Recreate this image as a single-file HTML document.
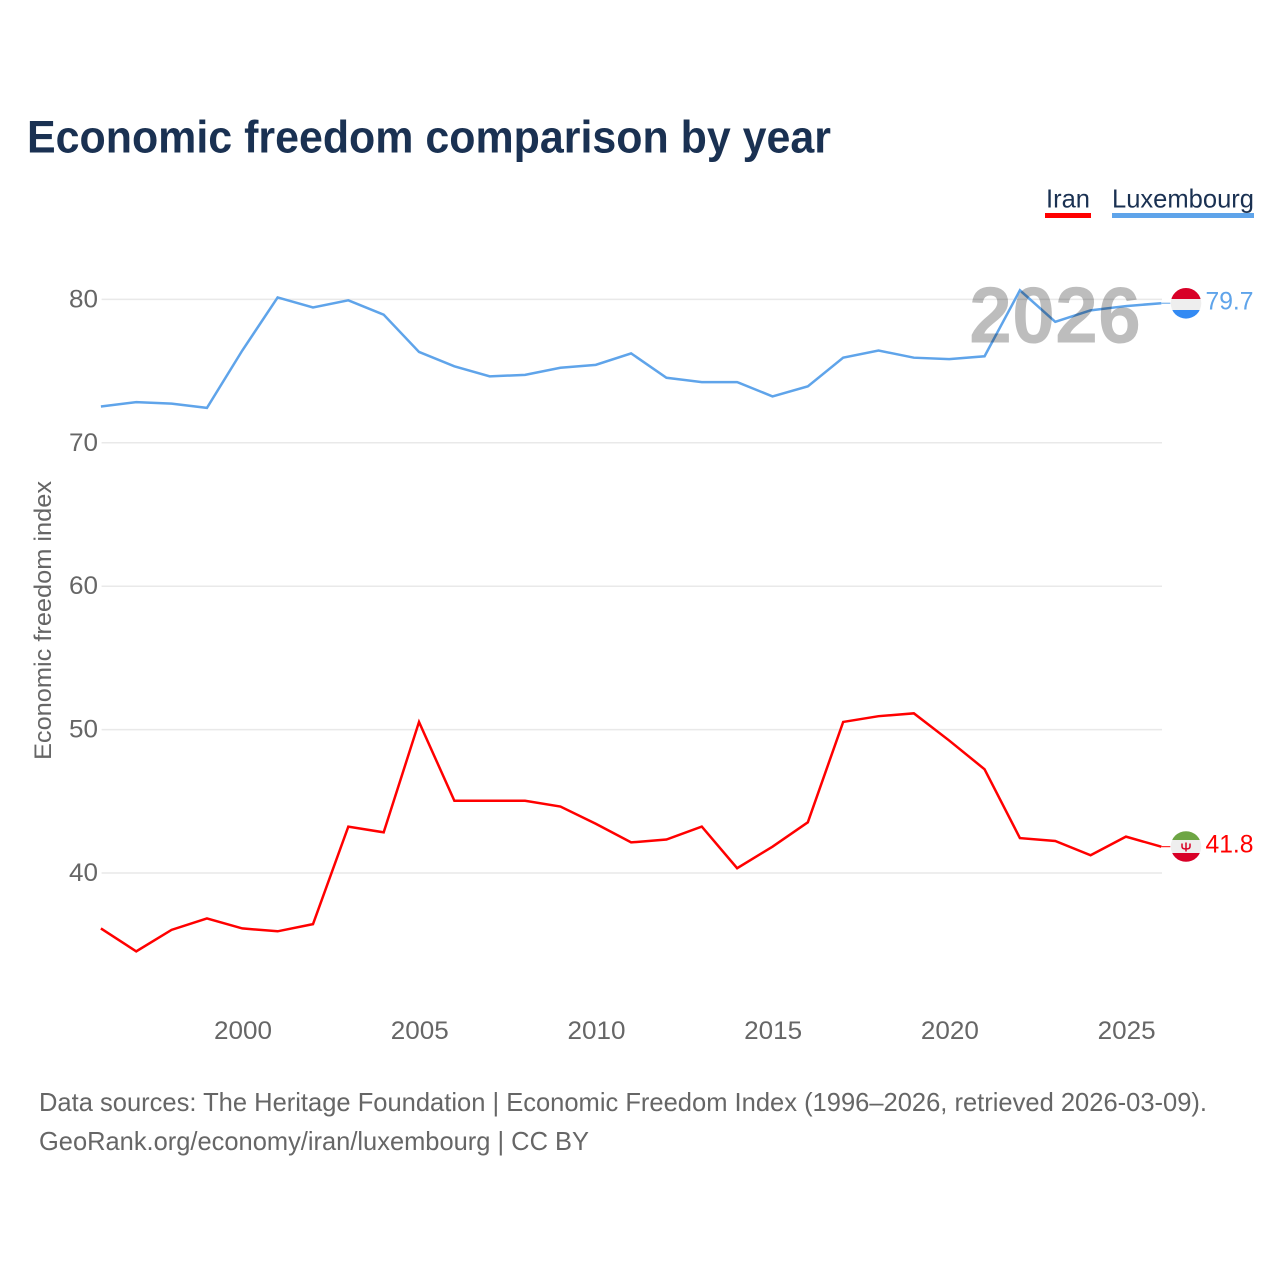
<!DOCTYPE html>
<html lang="en">
<head>
<meta charset="utf-8">
<title>Economic freedom comparison by year</title>
<style>
html,body{margin:0;padding:0;background:#fff;}
svg{display:block;font-family:"Liberation Sans",sans-serif;}
</style>
</head>
<body>
<svg id="chart" xmlns="http://www.w3.org/2000/svg" width="1280" height="1280" viewBox="0 0 1280 1280">
  <rect width="1280" height="1280" fill="#ffffff"/>
  <text x="27" y="152.5" font-size="45" font-weight="700" fill="#1a3152" textLength="804" lengthAdjust="spacingAndGlyphs">Economic freedom comparison by year</text>

  <g>
    <text x="1046" y="207.5" font-size="26" fill="#1a3152" textLength="44" lengthAdjust="spacingAndGlyphs">Iran</text>
    <rect x="1045" y="213" width="46" height="5" fill="#ff0000"/>
  </g>
  <g>
    <text x="1112" y="207.5" font-size="26" fill="#1a3152" textLength="142" lengthAdjust="spacingAndGlyphs">Luxembourg</text>
    <rect x="1112" y="213" width="142" height="5" fill="#5fa4ea"/>
  </g>

  <g id="grid"></g>
  <g id="yticks"></g>
  <g id="xticks"></g>

  <text transform="translate(51,760) rotate(-90)" font-size="24" fill="#666666" textLength="279" lengthAdjust="spacingAndGlyphs">Economic freedom index</text>

  <g id="series" transform="translate(-0.7,-0.5)"></g>

  <text x="969" y="342.5" font-size="80" font-weight="700" fill="#000000" fill-opacity="0.26" textLength="172" lengthAdjust="spacingAndGlyphs">2026</text>

  <defs>
    <clipPath id="flag-clip-lu"><circle cx="1186" cy="303.3" r="15.3"/></clipPath>
    <clipPath id="flag-clip-ir"><circle cx="1186" cy="846.5" r="15.3"/></clipPath>
  </defs>

  <g clip-path="url(#flag-clip-lu)">
    <rect x="1170" y="287" width="32" height="12" fill="#d80027"/>
    <rect x="1170" y="299" width="32" height="11" fill="#eeeeee"/>
    <rect x="1170" y="310" width="32" height="10" fill="#338af3"/>
  </g>
  <text id="label-lux" x="1205.5" y="309.5" font-size="25" fill="#5fa4ea" textLength="48" lengthAdjust="spacingAndGlyphs">79.7</text>

  <g clip-path="url(#flag-clip-ir)">
    <rect x="1170" y="830" width="32" height="10" fill="#6da544"/>
    <rect x="1170" y="840" width="32" height="13" fill="#eeeeee"/>
    <rect x="1170" y="853" width="32" height="10" fill="#d80027"/>
    <path d="M1182 843.5v3q0 2.5 4 2.5t4-2.5v-3M1186 842.5v9" fill="none" stroke="#d80027" stroke-width="1.5"/>
  </g>
  <text id="label-iran" x="1205.5" y="852.5" font-size="25" fill="#ff0000" textLength="48" lengthAdjust="spacingAndGlyphs">41.8</text>

  <text x="39" y="1111" font-size="26" fill="#666666" textLength="1168" lengthAdjust="spacingAndGlyphs">Data sources: The Heritage Foundation | Economic Freedom Index (1996–2026, retrieved 2026-03-09).</text>
  <text x="39" y="1150" font-size="26" fill="#666666" textLength="550" lengthAdjust="spacingAndGlyphs">GeoRank.org/economy/iran/luxembourg | CC BY</text>
</svg>
<script>
const years = [1996,1997,1998,1999,2000,2001,2002,2003,2004,2005,2006,2007,2008,2009,2010,2011,2012,2013,2014,2015,2016,2017,2018,2019,2020,2021,2022,2023,2024,2025,2026];
const iranValues = [36.1,34.5,36.0,36.8,36.1,35.9,36.4,43.2,42.8,50.5,45.0,45.0,45.0,44.6,43.4,42.1,42.3,43.2,40.3,41.8,43.5,50.5,50.9,51.1,49.2,47.2,42.4,42.2,41.2,42.5,41.8];
const luxembourgValues = [72.5,72.8,72.7,72.4,76.4,80.1,79.4,79.9,78.9,76.3,75.3,74.6,74.7,75.2,75.4,76.2,74.5,74.2,74.2,73.2,73.9,75.9,76.4,75.9,75.8,76.0,80.6,78.4,79.2,79.5,79.7];
const yTickValues = [40,50,60,70,80];
const xTickValues = [2000,2005,2010,2015,2020,2025];

const NS = 'http://www.w3.org/2000/svg';
const plotLeft = 101.6, plotRight = 1162;
function xScale(year) {
  return plotLeft + (year - years[0]) * (plotRight - plotLeft) / (years[years.length - 1] - years[0]);
}
function yScale(value) {
  return 873 - (value - 40) * 14.34;
}

const grid = document.getElementById('grid');
const yticks = document.getElementById('yticks');
const xticks = document.getElementById('xticks');
const series = document.getElementById('series');

yTickValues.forEach(function (v) {
  const line = document.createElementNS(NS, 'line');
  
  
  line.setAttribute('x1', plotLeft);
  line.setAttribute('x2', plotRight);
  line.setAttribute('y1', yScale(v));
  line.setAttribute('y2', yScale(v));
  line.setAttribute('stroke', '#e9e9e9');
  line.setAttribute('stroke-width', '1.5');
  grid.appendChild(line);

  const t = document.createElementNS(NS, 'text');
  
  
  t.setAttribute('x', 98);
  t.setAttribute('y', yScale(v) + 8);
  t.setAttribute('text-anchor', 'end');
  t.setAttribute('font-size', '25');
  t.setAttribute('fill', '#666666');
  t.setAttribute('textLength', '29');
  t.setAttribute('lengthAdjust', 'spacingAndGlyphs');
  t.textContent = v;
  yticks.appendChild(t);
});

xTickValues.forEach(function (v) {
  const t = document.createElementNS(NS, 'text');
  
  
  t.setAttribute('x', xScale(v));
  t.setAttribute('y', 1039);
  t.setAttribute('text-anchor', 'middle');
  t.setAttribute('font-size', '25');
  t.setAttribute('fill', '#666666');
  t.setAttribute('textLength', '58');
  t.setAttribute('lengthAdjust', 'spacingAndGlyphs');
  t.textContent = v;
  xticks.appendChild(t);
});

function pathFor(values) {
  return values.map(function (v, i) {
    return (i ? 'L' : 'M') + xScale(years[i]).toFixed(2) + ' ' + yScale(v).toFixed(2);
  }).join(' ');
}

const lineLux = document.createElementNS(NS, 'path');


lineLux.setAttribute('d', pathFor(luxembourgValues));
lineLux.setAttribute('fill', 'none');
lineLux.setAttribute('stroke', '#5fa4ea');
lineLux.setAttribute('stroke-width', '2.5');
series.appendChild(lineLux);

const lineIran = document.createElementNS(NS, 'path');


lineIran.setAttribute('d', pathFor(iranValues));
lineIran.setAttribute('fill', 'none');
lineIran.setAttribute('stroke', '#ff0000');
lineIran.setAttribute('stroke-width', '2.5');
series.appendChild(lineIran);

const connLux = document.createElementNS(NS, 'line');


connLux.setAttribute('x1', plotRight);
connLux.setAttribute('x2', 1171);
connLux.setAttribute('y1', yScale(luxembourgValues[luxembourgValues.length - 1]));
connLux.setAttribute('y2', yScale(luxembourgValues[luxembourgValues.length - 1]));
connLux.setAttribute('stroke', '#5fa4ea');
connLux.setAttribute('stroke-width', '1');
series.appendChild(connLux);

const connIran = document.createElementNS(NS, 'line');


connIran.setAttribute('x1', plotRight);
connIran.setAttribute('x2', 1171);
connIran.setAttribute('y1', yScale(iranValues[iranValues.length - 1]));
connIran.setAttribute('y2', yScale(iranValues[iranValues.length - 1]));
connIran.setAttribute('stroke', '#ff0000');
connIran.setAttribute('stroke-width', '1');
series.appendChild(connIran);

document.getElementById('label-lux').textContent = luxembourgValues[luxembourgValues.length - 1].toFixed(1);
document.getElementById('label-iran').textContent = iranValues[iranValues.length - 1].toFixed(1);
</script>
</body>
</html>
